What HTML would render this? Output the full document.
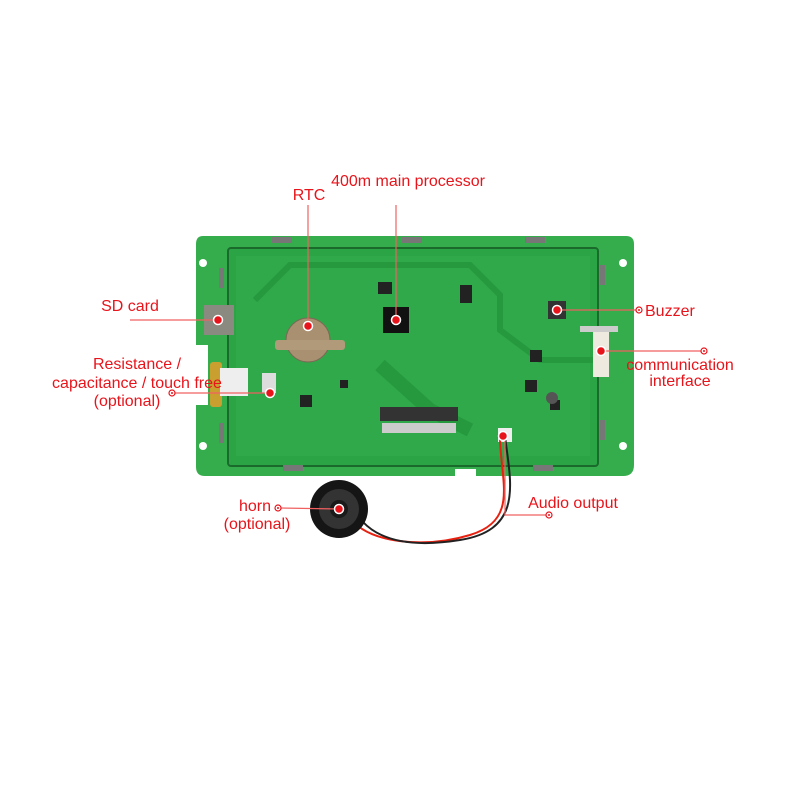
<!DOCTYPE html>
<html><head><meta charset="utf-8"><style>
body{margin:0;background:#fff;}
svg{display:block}
text{font-family:"Liberation Sans",sans-serif;fill:#e8141b;font-size:16px}
</style></head><body>
<svg width="800" height="800" viewBox="0 0 800 800">
<path d="M203 236 H626 Q634 236 634 244 V465 Q634 476 623 476 H476 V469 H455 V476 H205 Q196 476 196 467 V405 H208 V345 H196 V244 Q196 236 203 236 Z" fill="#36ad4c"/>
<rect x="228" y="248" width="370" height="218" fill="#2ba446" stroke="#1a6a2c" stroke-width="2" rx="3"/>
<rect x="236" y="256" width="354" height="200" fill="#30a94a"/>
<path d="M255 300 L290 265 H470 L500 295 V330 L540 360 H600" stroke="#26993f" stroke-width="6" fill="none"/>
<path d="M380 365 L430 410 L470 430" stroke="#26993f" stroke-width="14" fill="none"/>
<circle cx="203" cy="263" r="4" fill="#fff"/><circle cx="623" cy="263" r="4" fill="#fff"/>
<circle cx="203" cy="446" r="4" fill="#fff"/><circle cx="623" cy="446" r="4" fill="#fff"/>
<g fill="#777"><rect x="272" y="237" width="20" height="6"/><rect x="402" y="237" width="20" height="6"/><rect x="525" y="237" width="20" height="6"/>
<rect x="283" y="465" width="20" height="6"/><rect x="533" y="465" width="20" height="6"/>
<rect x="219" y="268" width="5" height="20"/><rect x="219" y="423" width="5" height="20"/><rect x="600" y="265" width="5" height="20"/><rect x="600" y="420" width="5" height="20"/></g>
<rect x="204" y="305" width="30" height="30" fill="#8a8a80"/>
<circle cx="308" cy="340" r="22" fill="#a89070" stroke="#7a6a55"/>
<rect x="275" y="340" width="70" height="10" rx="3" fill="#b09a7a"/>
<rect x="383" y="307" width="26" height="26" fill="#111"/>
<rect x="378" y="282" width="14" height="12" fill="#222"/>
<rect x="210" y="362" width="12" height="45" rx="3" fill="#c9a030"/>
<rect x="220" y="368" width="28" height="28" fill="#eee"/>
<rect x="262" y="373" width="14" height="20" fill="#ddd"/>
<rect x="380" y="407" width="78" height="14" fill="#333"/>
<rect x="382" y="423" width="74" height="10" fill="#ccc"/>
<rect x="548" y="301" width="18" height="18" fill="#333"/>
<rect x="593" y="330" width="16" height="47" fill="#eeeae0"/>
<rect x="580" y="326" width="38" height="6" fill="#ccc"/>
<g fill="#222"><rect x="530" y="350" width="12" height="12"/><rect x="525" y="380" width="12" height="12"/><rect x="550" y="400" width="10" height="10"/><rect x="300" y="395" width="12" height="12"/><rect x="340" y="380" width="8" height="8"/><rect x="460" y="285" width="12" height="18"/></g>
<circle cx="552" cy="398" r="6" fill="#555"/>
<rect x="498" y="428" width="14" height="14" fill="#eee"/>
<path d="M500 436 C500 480 520 520 470 535 C420 550 370 540 355 523" stroke="#e82010" stroke-width="2" fill="none"/>
<path d="M505 436 C510 480 525 530 460 540 C410 548 380 540 363 522" stroke="#222" stroke-width="2" fill="none"/>
<circle cx="339" cy="509" r="29" fill="#151515"/>
<circle cx="339" cy="509" r="20" fill="#333"/>
<circle cx="339" cy="509" r="9" fill="#1a1a1a"/>
<g stroke="#f06060" stroke-width="1.2" fill="none">
<line x1="396" y1="205" x2="396" y2="320"/>
<line x1="308" y1="205" x2="308" y2="326"/>
<line x1="130" y1="320" x2="218" y2="320"/>
<line x1="557" y1="310" x2="637" y2="310"/>
<line x1="601" y1="351" x2="702" y2="351"/>
<line x1="174" y1="393" x2="270" y2="393"/>
<line x1="280" y1="508" x2="339" y2="509"/>
<polyline points="505,436 505,515 547,515"/>
</g>
<g fill="#e8141b" stroke="#fff" stroke-width="1.5">
<circle cx="396" cy="320" r="4.5"/><circle cx="308" cy="326" r="4.5"/><circle cx="218" cy="320" r="4.5"/>
<circle cx="557" cy="310" r="4.5"/><circle cx="601" cy="351" r="4.5"/><circle cx="270" cy="393" r="4.5"/>
<circle cx="339" cy="509" r="4.5"/><circle cx="503" cy="436" r="4.5"/>
</g>
<g fill="#fff" stroke="#e8141b" stroke-width="1.2">
<circle cx="639" cy="310" r="3"/><circle cx="704" cy="351" r="3"/><circle cx="172" cy="393" r="3"/>
<circle cx="278" cy="508" r="3"/><circle cx="549" cy="515" r="3"/>
</g>
<g fill="#e8141b"><circle cx="639" cy="310" r="1"/><circle cx="704" cy="351" r="1"/><circle cx="172" cy="393" r="1"/><circle cx="278" cy="508" r="1"/><circle cx="549" cy="515" r="1"/></g>
<text x="408" y="186" text-anchor="middle">400m main processor</text>
<text x="309" y="200" text-anchor="middle">RTC</text>
<text x="130" y="311" text-anchor="middle">SD card</text>
<text x="645" y="316">Buzzer</text>
<text x="680" y="370" text-anchor="middle">communication</text>
<text x="680" y="386" text-anchor="middle">interface</text>
<text x="137" y="369" text-anchor="middle">Resistance /</text>
<text x="137" y="388" text-anchor="middle">capacitance / touch free</text>
<text x="127" y="406" text-anchor="middle">(optional)</text>
<text x="255" y="511" text-anchor="middle">horn</text>
<text x="257" y="529" text-anchor="middle">(optional)</text>
<text x="573" y="508" text-anchor="middle">Audio output</text>
</svg>
</body></html>
